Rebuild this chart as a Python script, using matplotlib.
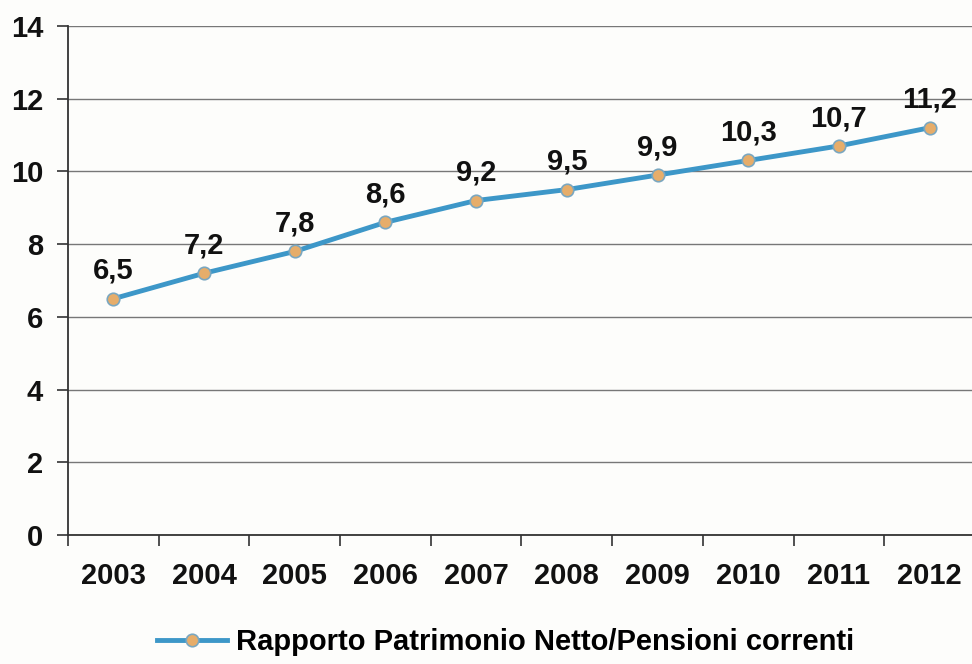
import matplotlib
matplotlib.use("Agg")
import matplotlib.pyplot as plt

years = ["2003", "2004", "2005", "2006", "2007", "2008", "2009", "2010", "2011", "2012"]
values = [6.5, 7.2, 7.8, 8.6, 9.2, 9.5, 9.9, 10.3, 10.7, 11.2]
labels = ["6,5", "7,2", "7,8", "8,6", "9,2", "9,5", "9,9", "10,3", "10,7", "11,2"]
series_name = "Rapporto Patrimonio Netto/Pensioni correnti"
yticks = [0, 2, 4, 6, 8, 10, 12, 14]

plt.rcParams['font.family'] = ['Liberation Sans', 'DejaVu Sans']

fig = plt.figure(figsize=(9.72, 6.64), dpi=100, facecolor="#fdfdfb")
ax = fig.add_axes([0.070, 0.194, 0.933, 0.767])
ax.set_facecolor("#fdfdfb")

x = list(range(len(years)))
line, = ax.plot(x, values, color="#3d97c8", lw=3.5, marker="o", ms=9,
                markerfacecolor="#e6ad6a", markeredgecolor="#7aa7c0", markeredgewidth=1.2,
                zorder=3, label=series_name)
for xi, v, t in zip(x, values, labels):
    ax.annotate(t, (xi, v), xytext=(0, 10), textcoords="offset points",
                ha="center", va="bottom", fontsize=21, fontweight="bold", color="#111111")

ax.set_xlim(-0.5, len(years) - 0.5)
ax.set_ylim(0, 14)
ax.set_yticks(yticks)
ax.set_yticklabels([str(t) for t in yticks], fontsize=21, fontweight="bold", color="#111111")
ax.set_xticks(x)
ax.set_xticklabels(years, fontsize=21, fontweight="bold", color="#111111")
ax.tick_params(axis="x", length=0, pad=19)
ax.set_xticks([i - 0.5 for i in range(len(years) + 1)], minor=True)
ax.tick_params(axis="x", which="minor", length=8, width=1.2, color="#333333", direction="out")
ax.tick_params(axis="y", length=8, width=1.2, color="#333333", pad=10)

ax.grid(axis="y", color="#777777", lw=1.0)
ax.set_axisbelow(True)
for s in ["top", "right"]:
    ax.spines[s].set_visible(False)
ax.spines["left"].set_color("#333333")
ax.spines["left"].set_linewidth(1.3)
ax.spines["bottom"].set_color("#333333")
ax.spines["bottom"].set_linewidth(1.3)

fig.legend(handles=[line], loc="center", bbox_to_anchor=(0.52, 0.033), frameon=False,
           prop={"size": 21, "weight": "bold"}, handlelength=2.4, handletextpad=0.3)

fig.savefig("out.png", dpi=100, facecolor=fig.get_facecolor())
